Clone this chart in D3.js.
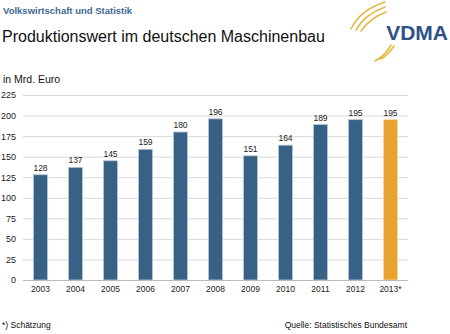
<!DOCTYPE html>
<html>
<head>
<meta charset="utf-8">
<script src="https://cdn.jsdelivr.net/npm/d3@7"></script>
<style>
  body { margin: 0; background: #fff; }
  text { font-family: "Liberation Sans", Arial, sans-serif; }
</style>
</head>
<body>
<script>
'use strict';

// chart data
const years = ["2003", "2004", "2005", "2006", "2007", "2008", "2009", "2010", "2011", "2012", "2013*"];
const values = [128, 137, 145, 159, 180, 196, 151, 164, 189, 195, 195];
const estimated = [false, false, false, false, false, false, false, false, false, false, true];
const yTicks = [0, 25, 50, 75, 100, 125, 150, 175, 200, 225];

(function() {
  const svg = d3.select('body').append('svg')
    .attr('width', 450)
    .attr('height', 334);

  // scales
  const xScale = d3.scaleBand()
    .domain(years)
    .range([23, 408])
    .paddingInner(0.6)
    .paddingOuter(0.3);

  const yScale = d3.scaleLinear()
    .domain([0, 225])
    .range([280, 95]);

  // gridlines
  svg.append('g')
    .selectAll('line')
    .data(yTicks)
    .enter()
    .append('line')
      .attr('x1', 23)
      .attr('x2', 408)
      .attr('y1', d => yScale(d) + 0.5)
      .attr('y2', d => yScale(d) + 0.5)
      .attr('stroke', '#d9d9d9')
      .attr('stroke-width', 1);

  // y axis labels
  const yAxis = d3.axisLeft(yScale).tickValues(yTicks).tickSize(0).tickPadding(0);
  const yG = svg.append('g')
    .attr('transform', 'translate(16, 0)')
    .call(yAxis);
  yG.select('.domain').remove();
  yG.selectAll('text')
    .attr('fill', '#222')
    .style('font-size', '9px')
    .style('font-family', '"Liberation Sans", Arial, sans-serif');

  // bars
  svg.selectAll('.bar')
    .data(years)
    .enter()
    .append('rect')
      .attr('class', 'bar')
      .attr('x', d => xScale(d))
      .attr('y', (d, i) => yScale(values[i]))
      .attr('width', xScale.bandwidth())
      .attr('height', (d, i) => yScale(0) - yScale(values[i]))
      .attr('fill', (d, i) => estimated[i] ? '#e8a32e' : '#386186')
      .attr('stroke', (d, i) => estimated[i] ? '#f6dca4' : '#b9c7d6')
      .attr('stroke-width', 0.8);

  // value labels
  svg.selectAll('.val')
    .data(years)
    .enter()
    .append('text')
      .attr('class', 'val')
      .attr('x', d => xScale(d) + xScale.bandwidth() / 2)
      .attr('y', (d, i) => yScale(values[i]) - 4)
      .attr('text-anchor', 'middle')
      .attr('fill', '#222')
      .style('font-size', '8.5px')
      .text((d, i) => values[i]);

  // x axis
  svg.append('line')
    .attr('x1', 23).attr('x2', 408)
    .attr('y1', 280.5).attr('y2', 280.5)
    .attr('stroke', '#bbb');
  const xAxis = d3.axisBottom(xScale).tickSize(0).tickPadding(6);
  const xG = svg.append('g')
    .attr('transform', 'translate(0, 280)')
    .call(xAxis);
  xG.select('.domain').remove();
  xG.selectAll('text')
    .attr('fill', '#222')
    .style('font-size', '8.5px')
    .style('font-family', '"Liberation Sans", Arial, sans-serif');

  // titles
  svg.append('text')
    .attr('x', 3).attr('y', 14)
    .attr('fill', '#3f6a92')
    .style('font-size', '9.5px')
    .style('font-weight', 'bold')
    .text('Volkswirtschaft und Statistik');

  svg.append('text')
    .attr('x', 2).attr('y', 42)
    .attr('fill', '#111')
    .style('font-size', '16px')
    .text('Produktionswert im deutschen Maschinenbau');

  svg.append('text')
    .attr('x', 3).attr('y', 83)
    .attr('fill', '#111')
    .style('font-size', '10.5px')
    .text('in Mrd. Euro');

  // footer
  svg.append('text')
    .attr('x', 2).attr('y', 328)
    .attr('fill', '#111')
    .style('font-size', '8.5px')
    .text('*) Schätzung');

  svg.append('text')
    .attr('x', 407).attr('y', 328)
    .attr('text-anchor', 'end')
    .attr('fill', '#111')
    .style('font-size', '8.5px')
    .text('Quelle: Statistisches Bundesamt');

  // logo
  const logo = svg.append('g');
  const arcs = [
    'M351,29 Q360,10 385,2',
    'M356,30 Q365,14 385,7',
    'M361,31 Q370,18 386,12',
    'M375,61 Q385,56 391,45',
    'M381,59 Q389,54 394,46'
  ];
  logo.selectAll('path')
    .data(arcs)
    .enter()
    .append('path')
      .attr('d', d => d)
      .attr('fill', 'none')
      .attr('stroke', '#e6b640')
      .attr('stroke-width', 1.6)
      .attr('stroke-linecap', 'round');
  logo.append('text')
    .attr('x', 448).attr('y', 40)
    .attr('text-anchor', 'end')
    .attr('fill', '#2d5287')
    .style('font-size', '21px')
    .style('font-weight', 'bold')
    .text('VDMA');
})();
</script>
</body>
</html>
